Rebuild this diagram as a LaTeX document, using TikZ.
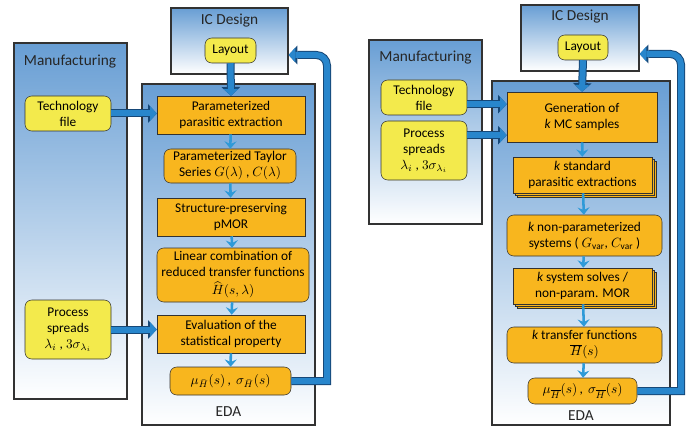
\documentclass[tikz,border=0pt]{standalone}
\usepackage{fontspec}
\setmainfont{Carlito}
\usepackage{amsmath}
\usetikzlibrary{positioning,arrows.meta,shadows}
\definecolor{panel-blue}{RGB}{104,158,212}
\definecolor{box-orange}{RGB}{248,182,30}
\definecolor{box-yellow}{RGB}{243,234,76}
\definecolor{arrow-blue}{RGB}{40,134,204}
\definecolor{arrow-dark}{RGB}{22,72,120}
\definecolor{link-blue}{RGB}{46,154,216}
\definecolor{edge-gray}{RGB}{50,50,50}
\tikzset{
    panel-box/.style = {draw=edge-gray, line width=0.9pt, top color=panel-blue, bottom color=white, rectangle, inner sep=0pt},
    panel-title/.style = {font=\fontsize{11.5}{13}\selectfont, text=black!85, inner sep=0pt},
    step-box/.style = {draw=edge-gray, fill=box-orange, thin, rectangle, align=center, inner sep=1pt, font=\fontsize{10}{12}\selectfont},
    round-step-box/.style = {step-box, rounded corners=5pt},
    stack-box/.style = {step-box, double copy shadow={shadow xshift=1.5pt, shadow yshift=-1.5pt}},
    input-box/.style = {draw=edge-gray, fill=box-yellow, thin, rounded corners=5pt, align=center, inner sep=1pt, font=\fontsize{10}{12}\selectfont},
    big-arrow/.style = {arrow-blue, line width=4.5pt, -{Triangle[length=5pt,width=11pt,line width=0pt]},
        preaction={draw=arrow-dark, line width=6pt, -{Triangle[length=6.5pt,width=14pt,line width=0pt]}}},
    small-arrow/.style = {link-blue, line width=1.9pt, -{Stealth[length=5.5pt,width=9pt,inset=2pt]}},
}
\begin{document}
\begin{tikzpicture}[x=0.75pt, y=-0.75pt]
\useasboundingbox (0,0) rectangle (699,431);

% left: parameterized flow
\node[panel-box, minimum width=84.75pt, minimum height=267pt] (manL) at (70.5,221) {};
\node[panel-title] (manL-title) at (70,62) {Manufacturing};
\node[input-box, minimum width=64.5pt, minimum height=26.25pt] (techL) at (68,113.5) {Technology\\ file};
\node[input-box, minimum width=64.5pt, minimum height=44.25pt] (procL) at (68,329.5) {Process\\ spreads\\ $\lambda_i$ , $3\sigma_{\lambda_i}$};
\node[panel-box, minimum width=87.75pt, minimum height=49.5pt] (icL) at (229.5,41) {};
\node[panel-title] (icL-title) at (229.5,21) {IC Design};
\node[input-box, minimum width=38.25pt, minimum height=18.75pt] (layL) at (230.5,50.5) {Layout};
\node[panel-box, minimum width=129.75pt, minimum height=255.75pt] (edaL) at (228.5,254.5) {};
\node[panel-title] (edaL-title) at (228.5,412) {EDA};

\node[step-box, minimum width=111pt, minimum height=28.5pt] (b1) at (231,115) {Parameterized\\ parasitic extraction};
\node[round-step-box, minimum width=99pt, minimum height=25.5pt] (b2) at (230,166) {Parameterized Taylor\\ Series $G(\lambda)$ , $C(\lambda)$};
\node[step-box, minimum width=111pt, minimum height=28.5pt] (b3) at (231,217) {Structure-preserving\\ pMOR};
\node[round-step-box, minimum width=114pt, minimum height=40.5pt] (b4) at (233,275) {Linear combination of\\ reduced transfer functions\\[1.5pt] $\widehat{H}(s,\lambda)$};
\node[step-box, minimum width=111pt, minimum height=28.5pt] (b5) at (231,334) {Evaluation of the\\ statistical property};
\node[round-step-box, minimum width=90.75pt, minimum height=21pt] (b6) at (230.5,381) {$\mu_{\bar{H}}(s)$\,,\, $\sigma_{\bar{H}}(s)$};

\draw[small-arrow] (b1) -- (b2);
\draw[small-arrow] (b2) -- (b3);
\draw[small-arrow] (b3) -- (b4);
\draw[small-arrow] (b4) -- (b5);
\draw[small-arrow] (b5) -- (b6);

\draw[big-arrow] (layL.south) -- (b1.north);
\draw[big-arrow] (techL.east) -- (techL.east -| b1.west);
\draw[big-arrow] (procL.east) -- (procL.east -| b5.west);
\coordinate (fbL-bot) at (327,381);
\coordinate (fbL-top) at (327,55);
\draw[big-arrow] (b6.east) -- (fbL-bot) [rounded corners=8pt] -- (fbL-top) -- (fbL-top -| icL.east);

% right: Monte Carlo flow
\node[panel-box, minimum width=84.75pt, minimum height=138pt] (manR) at (425.5,132) {};
\node[panel-title] (manR-title) at (425.5,58) {Manufacturing};
\node[input-box, minimum width=64.5pt, minimum height=26.25pt] (techR) at (424,97.5) {Technology\\ file};
\node[input-box, minimum width=64.5pt, minimum height=44.25pt] (procR) at (424,150.5) {Process\\ spreads\\ $\lambda_i$ ,  $3\sigma_{\lambda_i}$};
\node[panel-box, minimum width=88.5pt, minimum height=49.5pt] (icR) at (580,38) {};
\node[panel-title] (icR-title) at (580,17) {IC Design};
\node[input-box, minimum width=37.5pt, minimum height=18.75pt] (layR) at (583,47.5) {Layout};
\node[panel-box, minimum width=133.5pt, minimum height=258pt] (edaR) at (581,253) {};
\node[panel-title] (edaR-title) at (581,416) {EDA};

\node[step-box, minimum width=112.5pt, minimum height=37.5pt] (r1) at (582,117) {Generation of\\ \textit{k} MC samples};
\node[stack-box, minimum width=104.25pt, minimum height=27pt] (r2) at (582.5,175) {\textit{k} standard\\ parasitic extractions};
\node[round-step-box, minimum width=116.25pt, minimum height=30.75pt] (r3) at (584.5,235.5) {\textit{k} non-parameterized\\ systems ( $G_{\mathrm{var}}$, $C_{\mathrm{var}}$ )};
\node[stack-box, minimum width=104.25pt, minimum height=27pt] (r4) at (582.5,286) {\textit{k} system solves /\\ non-param. MOR};
\node[round-step-box, minimum width=116.25pt, minimum height=27pt] (r5) at (584.5,345) {\textit{k} transfer functions\\ $\overline{H}(s)$};
\node[round-step-box, minimum width=81.75pt, minimum height=19.5pt] (r6) at (582.5,391) {$\mu_{\overline{H}}(s)$\,,\, $\sigma_{\overline{H}}(s)$};

\draw[small-arrow] (r1) -- (r2);
\draw[small-arrow] (r2) -- (r3);
\draw[small-arrow] (r3) -- (r4);
\draw[small-arrow] (r4) -- (r5);
\draw[small-arrow] (r5) -- (r6);

\draw[big-arrow] (layR.south) -- (r1.north);
\draw[big-arrow] ([yshift=-5pt]techR.east) -- ([yshift=-5pt]techR.east -| r1.west);
\draw[big-arrow] ([yshift=11.5pt]procR.east) -- ([yshift=11.5pt]procR.east -| r1.west);
\coordinate (fbR-bot) at (681,391);
\coordinate (fbR-top) at (681,54);
\draw[big-arrow] (r6.east) -- (fbR-bot) [rounded corners=8pt] -- (fbR-top) -- (fbR-top -| icR.east);
\end{tikzpicture}
\end{document}
